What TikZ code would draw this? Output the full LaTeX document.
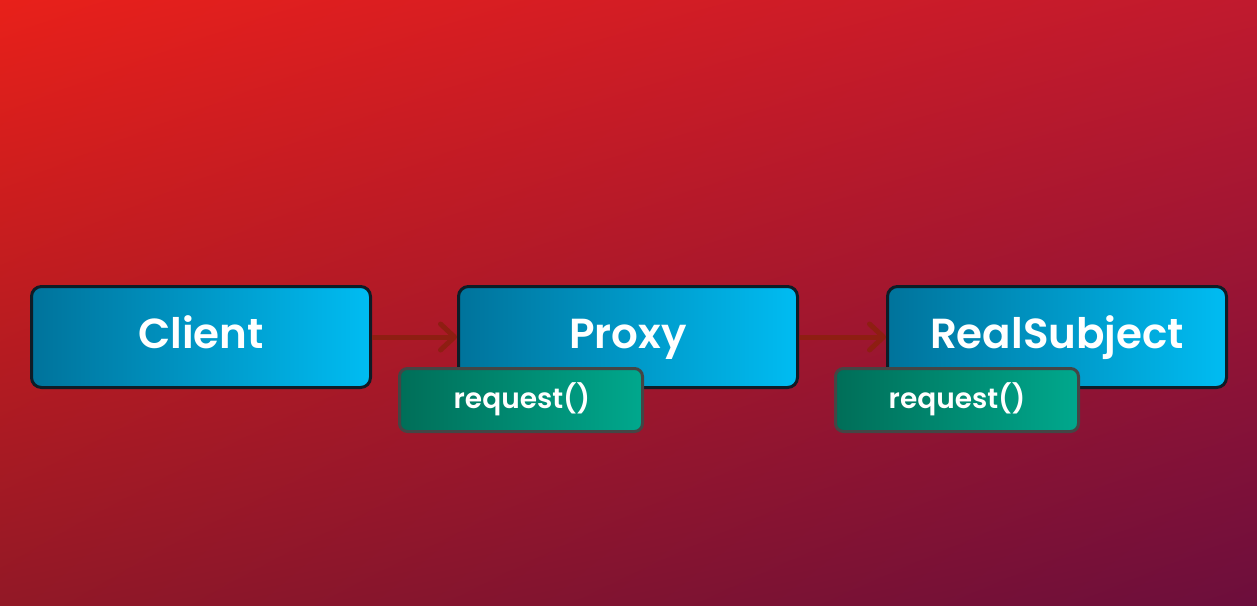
\documentclass[tikz,border=0pt]{standalone}
\usepackage{fontspec}
\setmainfont{Poppins}
\newfontfamily\labelfont{Poppins SemiBold}
\usetikzlibrary{arrows.meta,shadings}
\definecolor{bgTL}{HTML}{E8201A}
\definecolor{bgTR}{HTML}{C01A2E}
\definecolor{bgBL}{HTML}{921826}
\definecolor{bgBR}{HTML}{6C0E3C}
\definecolor{boxL}{HTML}{00739B}
\definecolor{boxR}{HTML}{00BCF2}
\definecolor{boxEdge}{HTML}{0E1C26}
\definecolor{reqL}{HTML}{006E58}
\definecolor{reqR}{HTML}{00A88D}
\definecolor{reqEdge}{HTML}{454545}
\definecolor{arrowRed}{HTML}{8E1E12}
\tikzset{
  classbox/.style={draw=boxEdge, line width=3pt, rounded corners=10pt,
    left color=boxL, right color=boxR, minimum width=339pt, minimum height=101pt,
    inner sep=0pt},
  classname/.style={text=white, font=\labelfont\fontsize{42}{48}\selectfont, inner sep=0pt, anchor=base},
  reqbox/.style={draw=reqEdge, line width=3pt, rounded corners=8pt,
    left color=reqL, right color=reqR, minimum width=243pt, minimum height=63pt,
    inner sep=0pt},
  reqname/.style={text=white, font=\labelfont\fontsize{28}{33}\selectfont, inner sep=0pt, anchor=base},
  link/.style={draw=arrowRed, line width=5pt,
    -{Straight Barb[length=14pt, width=26pt, line width=5pt, round]}},
}
\begin{document}
\begin{tikzpicture}[x=1pt, y=-1pt]
  \shade[upper left=bgTL, upper right=bgTR, lower left=bgBL, lower right=bgBR]
    (0,0) rectangle (1257,605);
  \useasboundingbox (0,0) rectangle (1257,605);

  \node[classbox] (client) at (201,337) {};
  \node[classbox] (proxy) at (628,337) {};
  \node[classbox] (real) at (1057,337) {};

  \node[classname] (clientT) at (201,348) {Client};
  \node[classname] (proxyT) at (628,348) {Proxy};
  \node[classname] (realT) at (1057,348) {RealSubject};

  \draw[link] (client.east) -- (proxy.west);
  \draw[link] (proxy.east) -- (real.west);

  \node[reqbox] (preq) at (521,400) {};
  \node[reqname] (preqT) at (522,408) {request()};
  \node[reqbox] (rreq) at (957,400) {};
  \node[reqname] (rreqT) at (957,408) {request()};
\end{tikzpicture}
\end{document}
